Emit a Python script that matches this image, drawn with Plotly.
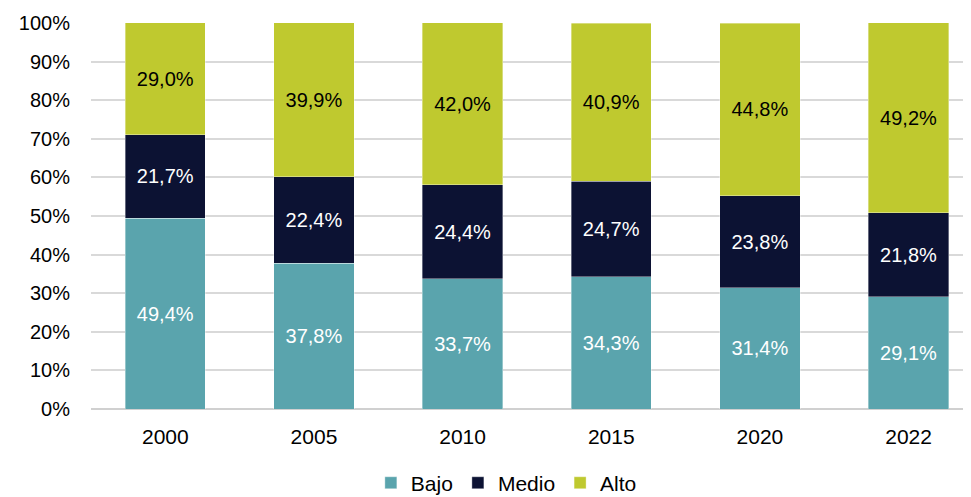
import plotly.graph_objects as go

years = ["2000", "2005", "2010", "2015", "2020", "2022"]
bajo = [49.4, 37.8, 33.7, 34.3, 31.4, 29.1]
medio = [21.7, 22.4, 24.4, 24.7, 23.8, 21.8]
alto = [29.0, 39.9, 42.0, 40.9, 44.8, 49.2]
y_ticks = [0, 10, 20, 30, 40, 50, 60, 70, 80, 90, 100]
y_tick_labels = [f"{t}%" for t in y_ticks]

def fmt(v):
    return f"{v:.1f}%".replace(".", ",")

series = [
    ("Bajo", bajo, "#5AA4AD", "white"),
    ("Medio", medio, "#0C1233", "white"),
    ("Alto", alto, "#BFC92F", "black"),
]

fig = go.Figure()
for name, vals, color, tcolor in series:
    fig.add_trace(go.Bar(
        x=years, y=vals, name=name,
        marker=dict(color=color, line=dict(width=0.6, color="rgba(255,255,255,0.6)")),
        text=[fmt(v) for v in vals],
        textposition="inside", insidetextanchor="middle",
        textfont=dict(size=20, color=tcolor, family="Liberation Sans"),
        constraintext="none",
        width=0.54,
    ))

# page body has an 8px default margin, so the figure is sized to fit the window
fig.update_layout(
    barmode="stack",
    width=963, height=489,
    margin=dict(l=83, r=0, t=15, b=88, autoexpand=False),
    paper_bgcolor="white", plot_bgcolor="white",
    font=dict(family="Liberation Sans", size=20, color="black"),
    showlegend=True,
    legend=dict(orientation="h", x=0.472, xanchor="center", y=-0.192, yanchor="middle",
                font=dict(size=21), itemwidth=30, traceorder="normal"),
    xaxis=dict(type="category", range=[-0.5, 5.42], showgrid=False, ticks="",
               tickfont=dict(size=21), showline=False, ticklabelstandoff=13),
    yaxis=dict(range=[0, 100], tickvals=y_ticks, ticktext=y_tick_labels,
               showgrid=True, gridcolor="#D9D9D9", gridwidth=1.5,
               zeroline=True, zerolinecolor="#D0D0D0", zerolinewidth=2,
               tickfont=dict(size=20), ticklabelstandoff=20),
)

fig.write_html("out.html")
